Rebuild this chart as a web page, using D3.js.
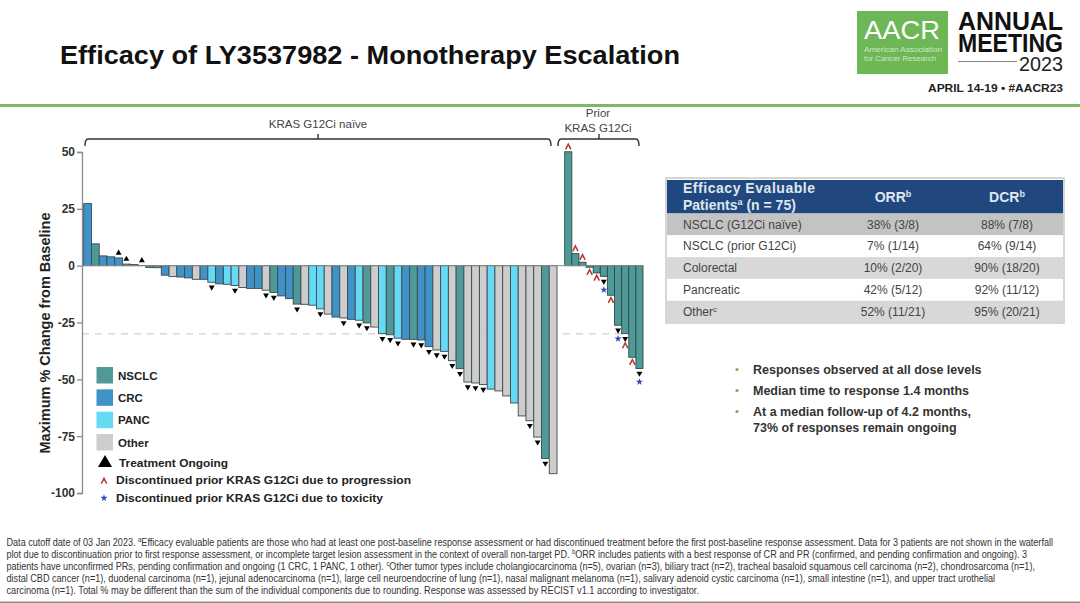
<!DOCTYPE html>
<html>
<head>
<meta charset="utf-8">
<script src="https://cdn.jsdelivr.net/npm/d3@7"></script>
<style>
    html, body { margin: 0; padding: 0; background: #fff; }
    svg { display: block; }
    text { font-family: "Liberation Sans", Arial, sans-serif; }
</style>
</head>
<body>
<div id="chart"></div>
<script>
// values
var naiveValues = [27.3, 9.6, 4.3, 3.9, 3.4, 0.7, 0.5, 0.1, -0.8, -0.9,
    -4.2, -4.8, -5, -5.4, -6, -6, -7.3, -8, -8.2, -8.7,
    -9.6, -10, -10, -10.8, -11.8, -13.3, -14.5, -16.9, -17, -17.4,
    -19, -21.3, -22.6, -23, -23.6, -24, -25.2, -27, -29.9, -30.4,
    -31.9, -32.4, -32.4, -32.7, -35.6, -37.1, -37.7, -41.8, -45.3, -51.2,
    -51.6, -52.3, -54.3, -55.1, -57.3, -60.4, -66.1, -68.2, -75.4, -84.8, -91.5];
var naiveTypes = ["CRC", "NSCLC", "CRC", "CRC", "CRC", "NSCLC", "NSCLC", "Other", "NSCLC", "NSCLC",
    "CRC", "Other", "CRC", "CRC", "Other", "CRC", "PANC", "CRC", "PANC", "PANC",
    "Other", "CRC", "CRC", "Other", "NSCLC", "CRC", "CRC", "NSCLC", "Other", "PANC",
    "PANC", "Other", "CRC", "Other", "CRC", "PANC", "NSCLC", "Other", "PANC", "NSCLC",
    "PANC", "CRC", "NSCLC", "CRC", "CRC", "Other", "PANC", "Other", "NSCLC", "Other",
    "Other", "Other", "PANC", "Other", "Other", "PANC", "Other", "Other", "Other", "NSCLC", "Other"];
var naiveOngoing = [0, 0, 0, 0, 1, 1, 0, 1, 0, 0,
    0, 0, 0, 0, 0, 0, 1, 0, 0, 1,
    0, 0, 0, 1, 1, 0, 0, 1, 0, 0,
    1, 0, 0, 1, 0, 1, 1, 0, 1, 1,
    1, 0, 1, 1, 1, 1, 1, 1, 1, 1,
    1, 1, 0, 0, 0, 0, 0, 1, 1, 1, 0];

var priorValues = [50.1, 5.3, 1.5, -0.7, -3.2, -4.7, -13, -26.2, -29.9, -40.3, -45.2];
var priorOngoing = [0, 0, 0, 0, 0, 1, 0, 1, 1, 0, 1];
var priorProgression = [1, 1, 1, 1, 1, 0, 1, 0, 1, 1, 0];
var priorToxicity = [0, 0, 0, 0, 0, 1, 0, 1, 0, 0, 1];

var yTicks = [50, 25, 0, -25, -50, -75, -100];
var responseLine = -30;

var legendTypes = ["NSCLC", "CRC", "PANC", "Other"];
var legendColors = ["#4f9a98", "#3f93c8", "#66d9f5", "#cdcdcd"];

var tableHead = ["ORR", "DCR"];
var tableRows = ["NSCLC (G12Ci naïve)", "NSCLC (prior G12Ci)", "Colorectal", "Pancreatic", "Other"];
var tableOrr = ["38% (3/8)", "7% (1/14)", "10% (2/20)", "42% (5/12)", "52% (11/21)"];
var tableDcr = ["88% (7/8)", "64% (9/14)", "90% (18/20)", "92% (11/12)", "95% (20/21)"];
var tableFills = ["#c3c3c3", "#ffffff", "#d8d8d8", "#ffffff", "#d8d8d8"];

var bullets = ["Responses observed at all dose levels", "Median time to response 1.4 months",
    "At a median follow-up of 4.2 months,", "73% of responses remain ongoing"];

var footnotes = [
    "Data cutoff date of 03 Jan 2023. ^aEfficacy evaluable patients are those who had at least one post-baseline response assessment or had discontinued treatment before the first post-baseline response assessment. Data for 3 patients are not shown in the waterfall",
    "plot due to discontinuation prior to first response assessment, or incomplete  target lesion assessment in the context of overall non-target PD. ^bORR includes patients with a best response of CR and PR (confirmed, and pending confirmation and ongoing). 3",
    "patients have unconfirmed PRs, pending confirmation and ongoing (1 CRC, 1 PANC, 1 other). ^cOther tumor types include cholangiocarcinoma (n=5), ovarian (n=3), biliary tract (n=2), tracheal basaloid squamous cell carcinoma (n=2), chondrosarcoma (n=1),",
    "distal CBD cancer (n=1), duodenal carcinoma (n=1), jejunal adenocarcinoma (n=1), large cell neuroendocrine of lung (n=1), nasal malignant melanoma (n=1), salivary adenoid cystic carcinoma (n=1), small intestine (n=1), and upper tract urothelial",
    "carcinoma (n=1). Total % may be different than the sum of the individual components due to rounding. Response was assessed by RECIST v1.1 according to investigator."
];
var footnoteEnds = [1053, 1027, 1035, 995, 699];

var svg = d3.select("#chart").append("svg")
    .attr("width", 1080)
    .attr("height", 603);

svg.append("rect").attr("width", 1080).attr("height", 603).attr("fill", "#fff");

// text with ^x superscripts
function richText(sel, str, size) {
    var parts = str.split(/\^(.)/);
    var lifted = false;
    parts.forEach(function (p, i) {
        var isSup = i % 2 == 1;
        var t = sel.append("tspan").text(p);
        if (isSup) {
            t.attr("dy", -size * 0.35).attr("font-size", size * 0.65);
            lifted = true;
        } else if (lifted) {
            t.attr("dy", size * 0.35);
            lifted = false;
        }
    });
}

// ---- header
svg.append("text").attr("x", 60).attr("y", 64)
    .attr("font-size", 26).attr("font-weight", "bold").attr("fill", "#111")
    .attr("textLength", 620).attr("lengthAdjust", "spacingAndGlyphs")
    .text("Efficacy of LY3537982 - Monotherapy Escalation");

svg.append("rect").attr("x", 0).attr("y", 104).attr("width", 1080).attr("height", 3).attr("fill", "#7fb765");

svg.append("rect").attr("x", 857).attr("y", 11).attr("width", 91).attr("height", 63).attr("fill", "#6db757");
svg.append("text").attr("x", 902).attr("y", 39).attr("text-anchor", "middle")
    .attr("font-size", 25).attr("fill", "#fff")
    .attr("textLength", 76).attr("lengthAdjust", "spacingAndGlyphs").text("AACR");
svg.append("text").attr("x", 864).attr("y", 52)
    .attr("font-size", 7.5).attr("fill", "#cfe8c3")
    .attr("textLength", 78).attr("lengthAdjust", "spacingAndGlyphs").text("American Association");
svg.append("text").attr("x", 864).attr("y", 61)
    .attr("font-size", 7.5).attr("fill", "#cfe8c3")
    .attr("textLength", 72).attr("lengthAdjust", "spacingAndGlyphs").text("for Cancer Research");

svg.append("text").attr("x", 958).attr("y", 30).attr("font-size", 25).attr("font-weight", "bold")
    .attr("fill", "#111").attr("textLength", 105).attr("lengthAdjust", "spacingAndGlyphs").text("ANNUAL");
svg.append("text").attr("x", 958).attr("y", 52).attr("font-size", 25).attr("font-weight", "bold")
    .attr("fill", "#111").attr("textLength", 105).attr("lengthAdjust", "spacingAndGlyphs").text("MEETING");
svg.append("rect").attr("x", 958).attr("y", 61).attr("width", 59).attr("height", 1).attr("fill", "#888");
svg.append("text").attr("x", 1019).attr("y", 71).attr("font-size", 20).attr("font-family", "Lato")
    .attr("font-weight", 300).attr("fill", "#222")
    .attr("textLength", 44).attr("lengthAdjust", "spacingAndGlyphs").text("2023");
svg.append("text").attr("x", 928).attr("y", 92).attr("font-size", 11.5).attr("font-weight", "bold")
    .attr("fill", "#222").attr("textLength", 135).attr("lengthAdjust", "spacingAndGlyphs")
    .text("APRIL 14-19 • #AACR23");

// ---- waterfall
var y = d3.scaleLinear().domain([50, -100]).range([152, 493]);
var xNaive = d3.scaleBand().domain(d3.range(naiveValues.length)).range([83.7, 557]);
var xPrior = d3.scaleBand().domain(d3.range(priorValues.length)).range([564.7, 643]);
var color = d3.scaleOrdinal().domain(legendTypes).range(legendColors);

svg.append("line").attr("x1", 82).attr("x2", 643)
    .attr("y1", y(responseLine)).attr("y2", y(responseLine))
    .attr("stroke", "#c4c4c4").attr("stroke-width", 1).attr("stroke-dasharray", "7,6");

var yAxis = svg.append("g").attr("transform", "translate(82,0)")
    .call(d3.axisLeft(y).tickValues(yTicks).tickFormat(String).tickSize(5).tickPadding(2));
yAxis.selectAll("path,line").attr("stroke", "#8c8c8c").attr("stroke-width", 1.3);
yAxis.selectAll("text").attr("font-size", 12).attr("font-weight", "bold").attr("fill", "#333")
    .attr("font-family", "Liberation Sans");

svg.append("text")
    .attr("transform", "translate(50,333) rotate(-90)")
    .attr("text-anchor", "middle").attr("font-size", 15).attr("font-weight", "bold").attr("fill", "#222")
    .attr("textLength", 241).attr("lengthAdjust", "spacingAndGlyphs")
    .text("Maximum % Change from Baseline");

svg.selectAll("rect.naive").data(naiveValues).enter().append("rect")
    .attr("class", "naive")
    .attr("x", function (d, i) { return xNaive(i); })
    .attr("width", xNaive.bandwidth())
    .attr("y", function (d) { return Math.min(y(d), y(0)); })
    .attr("height", function (d) { return Math.abs(y(d) - y(0)); })
    .attr("fill", function (d, i) { return color(naiveTypes[i]); })
    .attr("stroke", "#3f4a4c").attr("stroke-width", 0.9);

svg.selectAll("rect.prior").data(priorValues).enter().append("rect")
    .attr("class", "prior")
    .attr("x", function (d, i) { return xPrior(i); })
    .attr("width", xPrior.bandwidth())
    .attr("y", function (d) { return Math.min(y(d), y(0)); })
    .attr("height", function (d) { return Math.abs(y(d) - y(0)); })
    .attr("fill", color("NSCLC"))
    .attr("stroke", "#2f4a4a").attr("stroke-width", 0.9);

// zero line goes over the bars
svg.append("line").attr("x1", 82).attr("x2", 643).attr("y1", y(0)).attr("y2", y(0))
    .attr("stroke", "#8c8c8c").attr("stroke-width", 1);

// markers
var triangle = d3.symbol().type(d3.symbolTriangle).size(15);
var star = d3.symbol().type(d3.symbolStar).size(16);
var caret = d3.symbol().type({
    draw: function (ctx, size) {
        var w = Math.sqrt(size) / 2;
        ctx.moveTo(-w, w);
        ctx.lineTo(0, -w);
        ctx.lineTo(w, w);
    }
}).size(28);

function drawOngoing(x, d, extra) {
    var up = d >= 0;
    var py = up ? y(d) - 5 : y(d) + 5;
    svg.append("path").attr("d", triangle())
        .attr("fill", "#000")
        .attr("transform", "translate(" + x + "," + py + ") rotate(" + (up ? 0 : 180) + ")");
}
function drawCaret(x, py) {
    svg.append("path").attr("d", caret())
        .attr("fill", "none").attr("stroke", "#b8352e").attr("stroke-width", 1.5)
        .attr("transform", "translate(" + x + "," + py + ")");
}
function drawStar(x, py) {
    svg.append("path").attr("d", star())
        .attr("fill", "#2f45b5")
        .attr("transform", "translate(" + x + "," + py + ")");
}

naiveValues.forEach(function (d, i) {
    if (naiveOngoing[i]) drawOngoing(xNaive(i) + xNaive.bandwidth() / 2, d);
});
priorValues.forEach(function (d, i) {
    var cx = xPrior(i) + xPrior.bandwidth() / 2;
    if (priorOngoing[i]) drawOngoing(cx, d);
    if (priorProgression[i]) {
        var off = d >= 0 ? -5 : (priorOngoing[i] ? 12 : 5);
        drawCaret(cx, y(d) + off);
    }
    if (priorToxicity[i]) drawStar(cx, y(d) + 13.5);
});

// brackets
var bracketPath = function (x0, x1) {
    var p = d3.path();
    p.moveTo(x0, 146);
    p.quadraticCurveTo(x0, 139, x0 + 3, 139);
    p.lineTo(x1 - 3, 139);
    p.quadraticCurveTo(x1, 139, x1, 146);
    return p.toString();
};
svg.append("path").attr("d", bracketPath(85, 551)).attr("fill", "none").attr("stroke", "#333").attr("stroke-width", 1.4);
svg.append("path").attr("d", bracketPath(558, 639)).attr("fill", "none").attr("stroke", "#333").attr("stroke-width", 1.4);
svg.append("line").attr("x1", 599).attr("x2", 599).attr("y1", 134).attr("y2", 139).attr("stroke", "#333").attr("stroke-width", 1.4);
svg.append("line").attr("x1", 318).attr("x2", 318).attr("y1", 134).attr("y2", 139).attr("stroke", "#333").attr("stroke-width", 1.4);

svg.append("text").attr("x", 318).attr("y", 128).attr("text-anchor", "middle")
    .attr("font-size", 11.5).attr("fill", "#444").text("KRAS G12Ci naïve");
svg.append("text").attr("x", 598).attr("y", 117).attr("text-anchor", "middle")
    .attr("font-size", 11.5).attr("fill", "#444").text("Prior");
svg.append("text").attr("x", 598).attr("y", 132).attr("text-anchor", "middle")
    .attr("font-size", 11.5).attr("fill", "#444").text("KRAS G12Ci");

// ---- legend
var legendY = d3.scalePoint().domain(legendTypes).range([375, 442]);
legendTypes.forEach(function (t) {
    svg.append("rect").attr("x", 96.5).attr("y", legendY(t) - 8).attr("width", 16.5).attr("height", 16.5)
        .attr("fill", color(t));
    svg.append("text").attr("x", 118).attr("y", legendY(t) + 4.5)
        .attr("font-size", 11.5).attr("font-weight", "bold").attr("fill", "#222").text(t);
});
svg.append("path").attr("d", d3.symbol().type(d3.symbolTriangle).size(85)())
    .attr("fill", "#000").attr("transform", "translate(105,463)");
svg.append("text").attr("x", 119).attr("y", 467).attr("font-size", 11).attr("font-weight", "bold")
    .attr("fill", "#222").attr("textLength", 109).attr("lengthAdjust", "spacingAndGlyphs").text("Treatment Ongoing");
drawCaret(104, 481);
svg.append("text").attr("x", 116).attr("y", 484).attr("font-size", 11).attr("font-weight", "bold")
    .attr("fill", "#222").attr("textLength", 295).attr("lengthAdjust", "spacingAndGlyphs")
    .text("Discontinued prior KRAS G12Ci due to progression");
drawStar(104, 498);
svg.append("text").attr("x", 116).attr("y", 502).attr("font-size", 11).attr("font-weight", "bold")
    .attr("fill", "#222").attr("textLength", 267).attr("lengthAdjust", "spacingAndGlyphs")
    .text("Discontinued prior KRAS G12Ci due to toxicity");

// ---- table
svg.append("rect").attr("x", 666).attr("y", 178).attr("width", 398).attr("height", 145)
    .attr("fill", "none").attr("stroke", "#c9c9c9").attr("stroke-width", 1.5);
svg.append("rect").attr("x", 667).attr("y", 180).attr("width", 396).attr("height", 33.5).attr("fill", "#20487f");

var rowY = d3.scaleBand().domain(d3.range(tableRows.length)).range([213.5, 322.5]);
var colX = [893, 1007];

svg.append("text").attr("x", 683).attr("y", 193).attr("font-size", 14).attr("font-weight", "bold")
    .attr("fill", "#dfe6ef").attr("textLength", 132).attr("lengthAdjust", "spacing").text("Efficacy Evaluable");
var patients = svg.append("text").attr("x", 683).attr("y", 210).attr("font-size", 14).attr("font-weight", "bold")
    .attr("fill", "#dfe6ef");
richText(patients, "Patients^a (n = 75)", 14);

tableHead.forEach(function (h, i) {
    var t = svg.append("text").attr("x", colX[i]).attr("y", 202).attr("text-anchor", "middle")
        .attr("font-size", 14).attr("font-weight", "bold").attr("fill", "#dfe6ef");
    richText(t, h + "^b", 14);
});

tableRows.forEach(function (r, i) {
    var top = rowY(i), base = top + 15;
    svg.append("rect").attr("x", 667).attr("y", top).attr("width", 396).attr("height", rowY.bandwidth())
        .attr("fill", tableFills[i]);
    var label = svg.append("text").attr("x", 683).attr("y", base).attr("font-size", 12).attr("fill", "#444");
    richText(label, r == "Other" ? "Other^c" : r, 12);
    svg.append("text").attr("x", colX[0]).attr("y", base).attr("text-anchor", "middle")
        .attr("font-size", 12).attr("fill", "#444").text(tableOrr[i]);
    svg.append("text").attr("x", colX[1]).attr("y", base).attr("text-anchor", "middle")
        .attr("font-size", 12).attr("fill", "#444").text(tableDcr[i]);
});

// ---- bullets
var bulletY = [374, 395, 416, 432];
bullets.forEach(function (b, i) {
    svg.append("text").attr("x", 753).attr("y", bulletY[i]).attr("font-size", 12.5).attr("font-weight", "bold")
        .attr("fill", "#333").text(b);
    if (i < 3) {
        svg.append("circle").attr("cx", 737).attr("cy", bulletY[i] - 4.5).attr("r", 1.6).attr("fill", "#6db757");
    }
});

// ---- footnotes
footnotes.forEach(function (f, i) {
    var t = svg.append("text").attr("x", 6.5).attr("y", 545.5 + i * 12)
        .attr("font-size", 10).attr("fill", "#333")
        .attr("textLength", footnoteEnds[i] - 6.5).attr("lengthAdjust", "spacingAndGlyphs");
    richText(t, f, 10);
});

svg.append("rect").attr("x", 0).attr("y", 601.5).attr("width", 1080).attr("height", 1.5).attr("fill", "#8a8a8a");
</script>
</body>
</html>
